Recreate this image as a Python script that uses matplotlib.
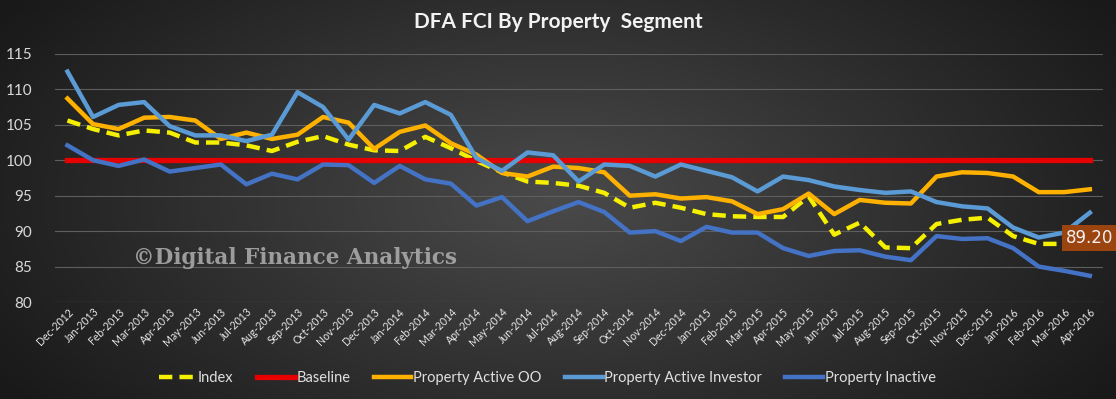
import numpy as np
import matplotlib.pyplot as plt

plt.rcParams['font.family'] = ['Lato', 'DejaVu Sans']

months = ['Dec-2012', 'Jan-2013', 'Feb-2013', 'Mar-2013', 'Apr-2013', 'May-2013', 'Jun-2013',
          'Jul-2013', 'Aug-2013', 'Sep-2013', 'Oct-2013', 'Nov-2013', 'Dec-2013', 'Jan-2014',
          'Feb-2014', 'Mar-2014', 'Apr-2014', 'May-2014', 'Jun-2014', 'Jul-2014', 'Aug-2014',
          'Sep-2014', 'Oct-2014', 'Nov-2014', 'Dec-2014', 'Jan-2015', 'Feb-2015', 'Mar-2015',
          'Apr-2015', 'May-2015', 'Jun-2015', 'Jul-2015', 'Aug-2015', 'Sep-2015', 'Oct-2015',
          'Nov-2015', 'Dec-2015', 'Jan-2016', 'Feb-2016', 'Mar-2016', 'Apr-2016']

index = [105.6, 104.4, 103.5, 104.2, 103.9, 102.5, 102.5, 102.1, 101.3, 102.6, 103.4, 102.2,
         101.4, 101.3, 103.3, 101.7, 99.9, 98.3, 97.0, 96.8, 96.4, 95.4, 93.3, 94.0, 93.3,
         92.4, 92.1, 92.0, 92.0, 94.9, 89.5, 91.2, 87.7, 87.6, 91.0, 91.6, 91.9, 89.3, 88.2,
         88.2, 89.2]
baseline = [100] * 41
active_oo = [108.7, 105.1, 104.4, 106.0, 106.1, 105.6, 103.0, 103.9, 103.0, 103.6, 106.1, 105.3,
             101.6, 104.0, 104.9, 102.4, 100.8, 98.2, 97.7, 99.1, 98.9, 98.3, 95.0, 95.2, 94.6,
             94.8, 94.2, 92.4, 93.1, 95.3, 92.4, 94.4, 94.0, 93.9, 97.7, 98.3, 98.2, 97.7, 95.5,
             95.5, 95.9]
active_inv = [112.5, 106.1, 107.8, 108.2, 104.8, 103.5, 103.5, 102.7, 103.6, 109.6, 107.5, 102.9,
              107.8, 106.6, 108.2, 106.4, 100.3, 98.5, 101.1, 100.7, 97.0, 99.4, 99.2, 97.7, 99.4,
              98.5, 97.6, 95.6, 97.7, 97.2, 96.3, 95.8, 95.4, 95.6, 94.1, 93.5, 93.2, 90.5, 89.1,
              89.8, 92.6]
inactive = [102.1, 100.0, 99.2, 100.1, 98.4, 98.9, 99.4, 96.6, 98.1, 97.3, 99.4, 99.3,
            96.8, 99.2, 97.3, 96.7, 93.6, 94.8, 91.4, 92.8, 94.1, 92.7, 89.8, 90.0, 88.6,
            90.6, 89.8, 89.8, 87.6, 86.5, 87.2, 87.3, 86.4, 85.9, 89.3, 88.9, 89.0, 87.6, 85.0,
            84.4, 83.7]

fig = plt.figure(figsize=(11.16, 3.99), dpi=100)

# dark radial background
bg = fig.add_axes([0, 0, 1, 1], zorder=-10)
yy, xx = np.mgrid[0:1:200j, 0:1:560j]
r = np.sqrt(((xx - 0.5) / 0.62) ** 2 + ((yy - 0.5) / 0.9) ** 2)
shade = np.clip(0.29 - 0.2 * r, 0.1, 0.3)
bg.imshow(np.dstack([shade, shade, shade]), aspect='auto', extent=[0, 1, 0, 1])
bg.axis('off')

ax = fig.add_axes([0.049, 0.243, 0.939, 0.622])
ax.patch.set_alpha(0)
x = np.arange(len(months))

lw = 3.2
ax.plot(x, index, color='#F5F000', lw=lw, ls=(0, (3, 1.6)), label='Index', zorder=3)
ax.plot(x, baseline, color='#E60000', lw=3.8, label='Baseline', zorder=3)
ax.plot(x, active_oo, color='#FFB100', lw=lw, label='Property Active OO', zorder=3)
ax.plot(x, active_inv, color='#5B9BD5', lw=lw, label='Property Active Investor', zorder=3)
ax.plot(x, inactive, color='#4472C4', lw=lw, label='Property Inactive', zorder=3)

ax.set_xlim(-0.5, len(months) - 0.5)
ax.set_ylim(80, 115)
ax.set_yticks(np.arange(80, 116, 5))
ax.set_xticks(x)
ax.set_xticklabels(months, rotation=45, ha='right', rotation_mode='anchor',
                   fontsize=7.6, color='#e8e8e8')
ax.tick_params(axis='y', colors='#d9d9d9', labelsize=11, length=0, pad=16)
ax.tick_params(axis='x', length=0, pad=3)
ax.grid(axis='y', color='#5e5e5e', lw=0.8)
for s in ax.spines.values():
    s.set_visible(False)
ax.axhline(80, color='#5e5e5e', lw=0.8)

# watermark
fig.text(0.119, 0.353, '\u00a9Digital Finance Analytics', family='DejaVu Serif',
         weight='bold', fontsize=15.5, color='#b0b0b0', alpha=0.85, va='center')

# data label on last index point
ax.annotate('89.20', (x[-1], index[-1]), xytext=(0, -1), textcoords='offset points',
            ha='center', va='center', fontsize=12, color='#f2f2f2',
            family=['DejaVu Sans'],
            bbox=dict(boxstyle='square,pad=0.25', fc='#9C4410', ec='none'), zorder=5)

fig.text(0.5, 0.945, 'DFA FCI By Property  Segment', ha='center', va='center',
         fontsize=15, weight='bold', color='#f2f2f2')

leg = ax.legend(loc='center', bbox_to_anchor=(0.47, -0.305), ncol=5, frameon=False,
                fontsize=10.5, handlelength=2.6, handletextpad=0.1, columnspacing=1.6)
for t in leg.get_texts():
    t.set_color('#e0e0e0')

fig.savefig('out.png', dpi=100)
